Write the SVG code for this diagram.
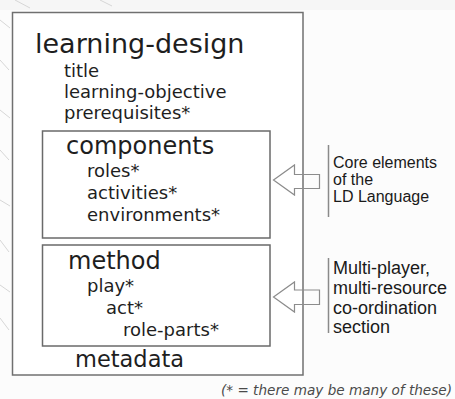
<svg xmlns="http://www.w3.org/2000/svg" width="455" height="399" viewBox="0 0 455 399">
  <style>
    .box { fill: #ffffff; stroke: #707070; stroke-width: 1.5; }
    .inner { fill: none; stroke: #6a6a6a; stroke-width: 1.5; }
    .dv { font-family: "DejaVu Sans", Verdana, sans-serif; fill: #1e1e1e; }
    .h1 { font-size: 27px; }
    .h2 { font-size: 24px; }
    .item { font-size: 18px; }
    .note { font-family: "Liberation Sans", Arial, sans-serif; fill: #1a1a1a; }
    .bar { stroke: #8a8a8a; stroke-width: 1.5; }
    .arrow { fill: none; stroke: #8c8c8c; stroke-width: 1.2; stroke-linejoin: miter; }
    .streak { stroke: #d6d6d6; stroke-width: 1; fill: none; }
  </style>

  <!-- page background with faint streaks along the left margin -->
  <rect x="0" y="0" width="455" height="399" fill="#fcfcfc"/>
  <rect x="0" y="0" width="455" height="10" fill="#f6f6f6"/>
  <g class="streak">
    <path d="M0 20 L10 28"/>
    <path d="M0 60 L9 70"/>
    <path d="M0 110 L10 118"/>
    <path d="M0 150 L9 160"/>
    <path d="M0 200 L10 206"/>
    <path d="M0 240 L9 252"/>
    <path d="M0 285 L10 292"/>
    <path d="M0 318 L9 330"/>
    <path d="M15 0 L30 8"/>
    <path d="M100 0 L112 6"/>
  </g>

  <!-- outer learning-design element -->
  <g id="learning-design">
    <rect class="box" x="12.5" y="12.5" width="290.5" height="362.5"/>
    <text class="dv h1" x="35" y="53">learning-design</text>
    <text class="dv item" x="64" y="77">title</text>
    <text class="dv item" x="64" y="98">learning-objective</text>
    <text class="dv item" x="64" y="119">prerequisites*</text>
    <text class="dv" x="75" y="367" font-size="22.5">metadata</text>
  </g>

  <!-- components section -->
  <g id="components">
    <rect class="inner" x="42.5" y="131" width="227.5" height="107"/>
    <text class="dv h2" x="66" y="154">components</text>
    <text class="dv item" x="87" y="177">roles*</text>
    <text class="dv item" x="87" y="199">activities*</text>
    <text class="dv item" x="87" y="221">environments*</text>
  </g>

  <!-- method section -->
  <g id="method">
    <rect class="inner" x="42.5" y="245" width="227.5" height="101"/>
    <text class="dv h2" x="68" y="269">method</text>
    <text class="dv item" x="87" y="292">play*</text>
    <text class="dv item" x="106" y="314">act*</text>
    <text class="dv item" x="123" y="336">role-parts*</text>
  </g>

  <!-- side annotations -->
  <g id="core-note">
    <line class="bar" x1="328.5" y1="145" x2="328.5" y2="217"/>
    <text class="note" font-size="16">
      <tspan x="333" y="168">Core elements</tspan>
      <tspan x="333" y="185">of the</tspan>
      <tspan x="333" y="202">LD Language</tspan>
    </text>
  </g>

  <g id="method-note">
    <line class="bar" x1="328.5" y1="258" x2="328.5" y2="333"/>
    <text class="note" font-size="18">
      <tspan x="333" y="274">Multi-player,</tspan>
      <tspan x="333" y="294">multi-resource</tspan>
      <tspan x="333" y="314">co-ordination</tspan>
      <tspan x="333" y="333">section</tspan>
    </text>
  </g>

  <!-- hollow block arrows pointing at the sections -->
  <g id="connectors">
    <path class="arrow" d="M273.5 180 L294.5 165 L294.5 174.5 L319.5 174.5 L319.5 188.5 L294.5 188.5 L294.5 195 Z"/>
    <path class="arrow" d="M273.5 297 L294.5 282 L294.5 290 L319.5 290 L319.5 304.5 L294.5 304.5 L294.5 312 Z"/>
  </g>

  <text x="452" y="395" text-anchor="end" font-family="'DejaVu Sans', Verdana, sans-serif" font-style="italic" font-size="13.6" fill="#4a4a4a">(* = there may be many of these)</text>
</svg>
